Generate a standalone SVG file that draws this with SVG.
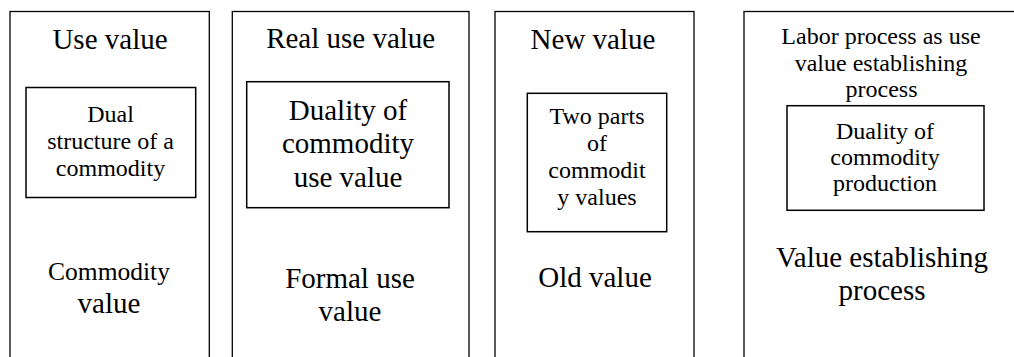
<svg xmlns="http://www.w3.org/2000/svg" width="1014" height="357" viewBox="0 0 1014 357">
  <style>
    .outer { fill: #ffffff; stroke: #000000; stroke-width: 1.3; }
    .inner { fill: #ffffff; stroke: #000000; stroke-width: 1.5; }
    text { font-family: "Liberation Serif", "Times New Roman", serif; fill: #000000; text-anchor: middle; }
    .big { font-size: 29px; }
    .small { font-size: 24px; }
  </style>
  <rect x="0" y="0" width="1014" height="357" fill="#ffffff"/>

  <g id="node-use-value">
    <rect class="outer" x="10" y="11.5" width="199.3" height="360"/>
    <text class="big" x="110" y="49.3">Use value</text>
    <g id="node-dual-structure">
      <rect class="inner" x="26" y="87.5" width="169.7" height="110"/>
      <text class="small" x="110.5" y="122.3">Dual</text>
      <text class="small" x="110.5" y="149">structure of a</text>
      <text class="small" x="110.5" y="175.5">commodity</text>
    </g>
    <text x="109" y="280" style="font-size:25.5px">Commodity</text>
    <text class="big" x="109" y="313">value</text>
  </g>

  <g id="node-real-use-value">
    <rect class="outer" x="232.3" y="11.5" width="236.7" height="360"/>
    <text class="big" x="350.7" y="48.3">Real use value</text>
    <g id="node-duality-use-value">
      <rect class="inner" x="246.7" y="81.7" width="202.3" height="126"/>
      <text class="big" x="348" y="120">Duality of</text>
      <text class="big" x="348" y="153">commodity</text>
      <text class="big" x="348" y="186.7">use value</text>
    </g>
    <text class="big" x="350" y="288.3">Formal use</text>
    <text class="big" x="350" y="321">value</text>
  </g>

  <g id="node-new-value">
    <rect class="outer" x="495" y="11.5" width="199" height="360"/>
    <text class="big" x="593" y="49.3">New value</text>
    <g id="node-two-parts">
      <rect class="inner" x="527.3" y="93.3" width="139.4" height="138.4"/>
      <text class="small" x="597" y="124.3">Two parts</text>
      <text class="small" x="597" y="151">of</text>
      <text class="small" x="597" y="178.3">commodit</text>
      <text class="small" x="597" y="205">y values</text>
    </g>
    <text class="big" x="595" y="286.7">Old value</text>
  </g>

  <g id="node-labor-process">
    <rect class="outer" x="744" y="11.5" width="300" height="360"/>
    <text class="small" x="881" y="44.3">Labor process as use</text>
    <text class="small" x="881" y="71">value establishing</text>
    <text class="small" x="881.5" y="97.3">process</text>
    <g id="node-duality-production">
      <rect class="inner" x="787" y="105.7" width="197" height="104.6"/>
      <text class="small" x="885" y="139.3">Duality of</text>
      <text class="small" x="885" y="165">commodity</text>
      <text class="small" x="885" y="190.5">production</text>
    </g>
    <text class="big" x="882" y="266.7">Value establishing</text>
    <text class="big" x="882" y="300">process</text>
  </g>

  <g id="connectors"/>
</svg>
